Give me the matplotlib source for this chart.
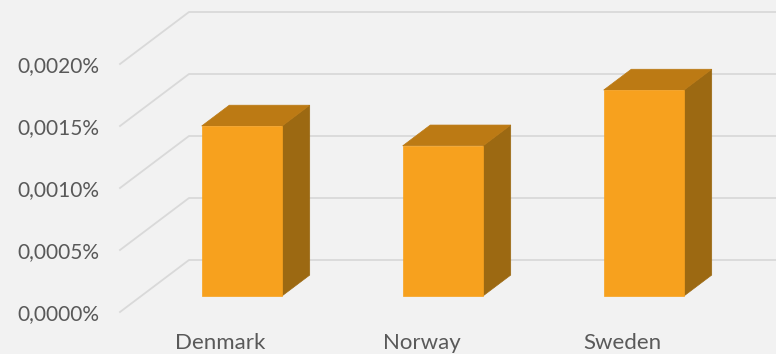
import matplotlib.pyplot as plt
from matplotlib.patches import Polygon
from matplotlib.transforms import ScaledTranslation, IdentityTransform

countries = ['Denmark', 'Norway', 'Sweden']
shares = [0.00137, 0.00121, 0.00166]  # percent
tick_values = [0.0, 0.0005, 0.0010, 0.0015, 0.0020]
tick_labels = ['0,0000%', '0,0005%', '0,0010%', '0,0015%', '0,0020%']

BG = '#F2F2F2'
GRID = '#D9D9D9'
TEXT = '#595959'
FRONT = '#F7A11E'
TOP = '#BC7A14'
SIDE = '#9C6912'

# oblique depth: pixels moved right / up when going from front to back wall
DX, DY = 69, 52
BAR_W = 0.4
T_FRONT, T_BACK = 0.31, 0.71

plt.rcParams['font.family'] = ['Lato', 'DejaVu Sans']

fig = plt.figure(figsize=(7.76, 3.54), dpi=100, facecolor=BG)
ax = fig.add_axes([120 / 776, 42 / 354, 603 / 776, 248 / 354])
ax.set_facecolor('none')
ax.set_xlim(-0.5, 2.5)
ax.set_ylim(0, 0.0020)
for s in ax.spines.values():
    s.set_visible(False)


def depth(t):
    return ax.transData + ScaledTranslation(t * DX / 100, t * DY / 100, fig.dpi_scale_trans)


def to_px(x, y, t):
    return depth(t).transform((x, y))


# gridlines: diagonal on the side wall, then across the back wall
for v in tick_values:
    p0 = to_px(-0.5, v, 0)
    p1 = to_px(-0.5, v, 1)
    p2 = to_px(3.5, v, 1)
    ax.plot([p0[0], p1[0], p2[0]], [p0[1], p1[1], p2[1]], color=GRID, lw=1.3,
            transform=IdentityTransform(), clip_on=False, zorder=1)

# 3d bars
for i, v in enumerate(shares):
    x0, x1 = i - BAR_W / 2, i + BAR_W / 2
    top = [to_px(x0, v, T_FRONT), to_px(x1, v, T_FRONT),
           to_px(x1, v, T_BACK), to_px(x0, v, T_BACK)]
    side = [to_px(x1, 0, T_FRONT), to_px(x1, v, T_FRONT),
            to_px(x1, v, T_BACK), to_px(x1, 0, T_BACK)]
    for pts, col in [(side, SIDE), (top, TOP)]:
        ax.add_patch(Polygon(pts, closed=True, facecolor=col, edgecolor=col, lw=0.5,
                             transform=IdentityTransform(), clip_on=False, zorder=2))
    front = [to_px(x0, 0, T_FRONT), to_px(x1, 0, T_FRONT),
             to_px(x1, v, T_FRONT), to_px(x0, v, T_FRONT)]
    ax.add_patch(Polygon(front, closed=True, facecolor=FRONT, edgecolor=FRONT, lw=0.5,
                         transform=IdentityTransform(), clip_on=False, zorder=3))

ax.set_yticks(tick_values)
ax.set_yticklabels(tick_labels)
ax.set_xticks(range(len(countries)))
ax.set_xticklabels(countries)
ax.tick_params(axis='y', length=0, pad=15, labelsize=15, labelcolor=TEXT)
ax.tick_params(axis='x', length=0, pad=15, labelsize=16, labelcolor=TEXT)

fig.savefig('out.png', dpi=100, facecolor=BG)
